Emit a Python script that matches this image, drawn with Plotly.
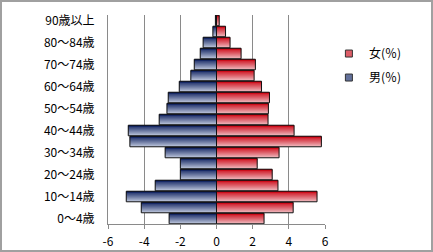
import plotly.graph_objects as go

# ---- data ----
age_groups = ["0～4歳", "5～9歳", "10～14歳", "15～19歳", "20～24歳", "25～29歳",
              "30～34歳", "35～39歳", "40～44歳", "45～49歳", "50～54歳", "55～59歳",
              "60～64歳", "65～69歳", "70～74歳", "75～79歳", "80～84歳", "85～89歳",
              "90歳以上"]
male_pct = [2.62, 4.16, 4.99, 3.39, 2.0, 2.0, 2.84, 4.79, 4.88, 3.17,
            2.74, 2.67, 2.06, 1.42, 1.23, 0.9, 0.74, 0.2, 0.06]
female_pct = [2.63, 4.24, 5.56, 3.4, 3.08, 2.25, 3.46, 5.8, 4.29, 2.85,
              2.87, 2.93, 2.49, 2.08, 2.15, 1.36, 0.75, 0.5, 0.15]
x_ticks = [-6, -4, -2, 0, 2, 4, 6]
shown_labels = age_groups[::2]
female_name = "女(％)"
male_name = "男(％)"

# ---- style ----
W, H = 433, 252
ML, MR, MT, MB = 108, 108, 15, 28
BAR_W = 0.96
N = 12
FONT = "Noto Sans CJK JP, Noto Sans, sans-serif"

def lerp(c1, c2, t):
    return "rgb(%d,%d,%d)" % tuple(round(a + (b - a) * t) for a, b in zip(c1, c2))

blue_dark, blue_light = (22, 40, 100), (214, 222, 238)
red_dark, red_light = (205, 14, 28), (244, 212, 216)

male_neg = [-v for v in male_pct]
fig = go.Figure()

for vals, cd, cl in [(male_neg, blue_dark, blue_light), (female_pct, red_dark, red_light)]:
    for k in range(N):
        t = k / (N - 1)
        fig.add_trace(go.Bar(
            x=vals, y=age_groups, orientation="h",
            offset=-BAR_W / 2 + k * BAR_W / N, width=BAR_W / N * 1.08,
            marker=dict(color=lerp(cl, cd, t ** 0.9), line=dict(width=0)),
            showlegend=False, hoverinfo="skip"))
    fig.add_trace(go.Bar(
        x=vals, y=age_groups, orientation="h",
        offset=-BAR_W / 2, width=BAR_W,
        marker=dict(color="rgba(0,0,0,0)", line=dict(color="#111111", width=1)),
        showlegend=False, hoverinfo="skip"))

# legend entries
for name, cd, cl, grp in [(female_name, red_dark, red_light, "f"), (male_name, blue_dark, blue_light, "m")]:
    fig.add_trace(go.Scatter(
        x=[None], y=[None], mode="markers", name=name, legendgroup=grp,
        marker=dict(symbol="square", size=7, color=lerp(cl, cd, 0.6),
                    line=dict(color="#333333", width=1))))

pw, ph = W - ML - MR, H - MT - MB
fig.add_shape(type="rect", xref="paper", yref="paper",
              x0=(-ML + 1) / pw, x1=1 + (MR - 1) / pw,
              y0=(-MB + 1) / ph, y1=1 + (MT - 1) / ph,
              line=dict(color="#a0a0a0", width=2), layer="above")

fig.update_layout(
    width=W, height=H, margin=dict(l=ML, r=MR, t=MT, b=MB, autoexpand=False),
    barmode="overlay", paper_bgcolor="white", plot_bgcolor="white",
    font=dict(family=FONT, size=12, color="#000000"),
    legend=dict(x=1.018, y=0.885, xanchor="left", yanchor="top",
                traceorder="grouped", tracegroupgap=5,
                font=dict(size=12), bgcolor="rgba(0,0,0,0)"),
    xaxis=dict(range=[-6, 6], tickvals=x_ticks, ticktext=[str(v) for v in x_ticks],
               showgrid=True, gridcolor="#8a8a8a", gridwidth=1,
               zeroline=True, zerolinecolor="#8a8a8a", zerolinewidth=1,
               showline=True, linecolor="#8a8a8a", linewidth=1,
               ticks="outside", ticklen=4, tickcolor="#8a8a8a",
               ticklabelstandoff=3, automargin=False,
               tickfont=dict(size=12), fixedrange=True),
    yaxis=dict(type="category", categoryorder="array", categoryarray=age_groups,
               range=[-0.5, len(age_groups) - 0.5],
               tickmode="array", tickvals=shown_labels, ticktext=shown_labels,
               showgrid=False, zeroline=False,
               showline=True, linecolor="#8a8a8a", linewidth=1,
               ticks="", ticklabelstandoff=10, automargin=False,
               tickfont=dict(size=12), fixedrange=True),
)

fig.write_html("out.html")
